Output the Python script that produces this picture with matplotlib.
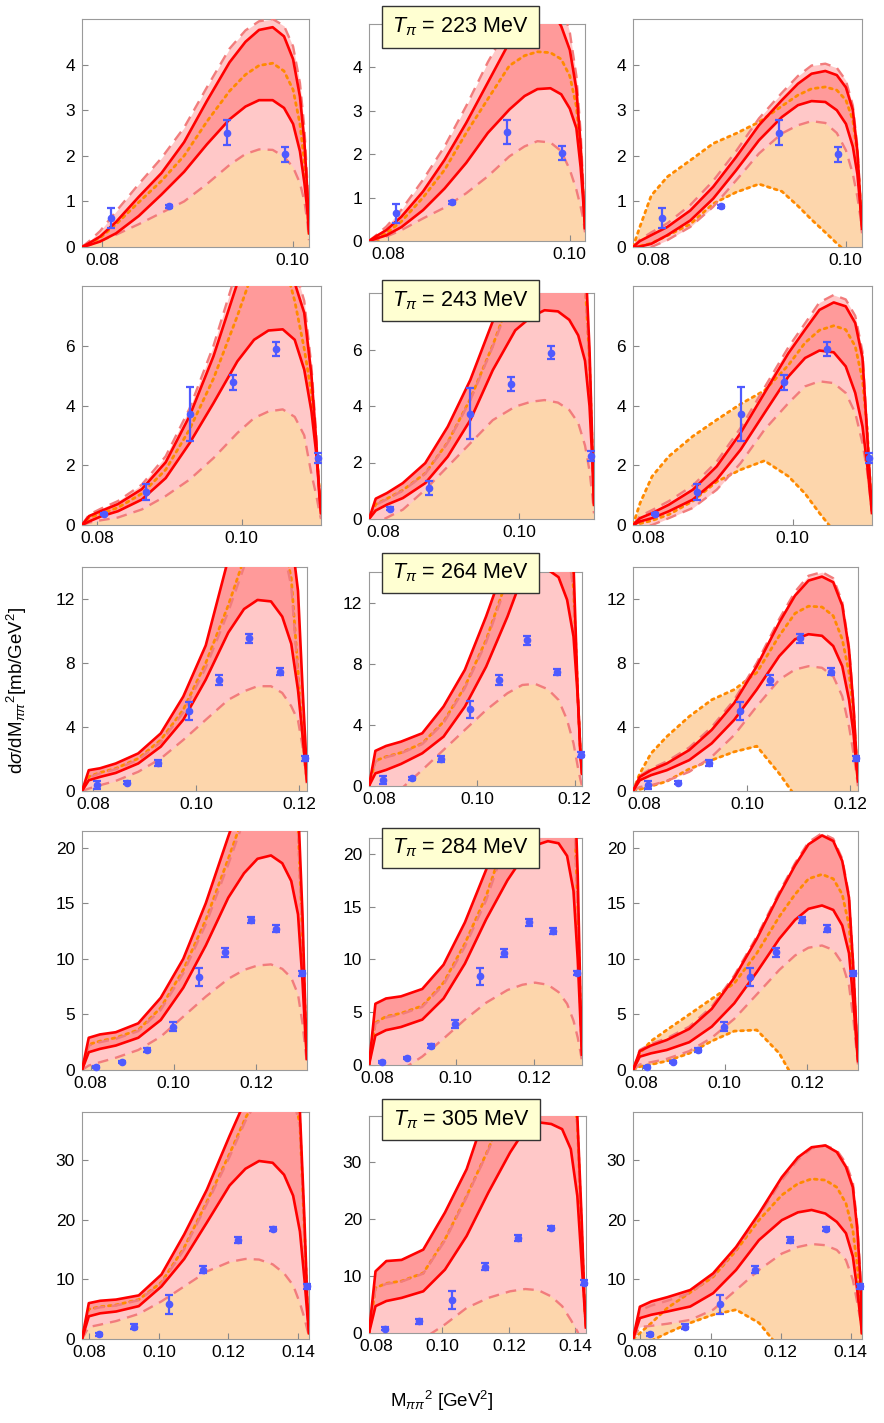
import matplotlib
matplotlib.use("Agg")
import matplotlib.pyplot as plt
from matplotlib.patches import Rectangle
from matplotlib.ticker import FixedLocator, FuncFormatter

plt.rcParams['font.family'] = ['Liberation Sans', 'DejaVu Sans']
plt.rcParams['mathtext.fontset'] = 'custom'
plt.rcParams['mathtext.rm'] = 'Liberation Sans'
plt.rcParams['mathtext.it'] = 'Liberation Sans:italic'
plt.rcParams['mathtext.bf'] = 'Liberation Sans:bold'

# ---------------- data ----------------
T_LABELS = ["223", "243", "264", "284", "305"]
Y_TICKS = [[0, 1, 2, 3, 4], [0, 2, 4, 6], [0, 4, 8, 12], [0, 5, 10, 15, 20], [0, 10, 20, 30]]
X_TICKS = [[0.08, 0.10], [0.08, 0.10], [0.08, 0.10, 0.12], [0.08, 0.10, 0.12], [0.08, 0.10, 0.12, 0.14]]
Y_MAX = [5.0, 8.0, 14.0, 21.5, 38.0]
X_MIN = 0.0779
X_MAX = [0.1017, 0.1110, 0.1215, 0.1322, 0.1432]

# sample x of the theory curves (one grid per row)
X_1 = [0.0779, 0.07861, 0.07980, 0.08147, 0.08385, 0.08623, 0.08861, 0.09099, 0.09337, 0.09504, 0.09646, 0.09789, 0.09908, 0.10003, 0.10075, 0.10122, 0.10153, 0.1017]
X_2 = [0.0779, 0.07889, 0.08055, 0.08287, 0.08618, 0.08949, 0.09280, 0.09611, 0.09942, 0.10173, 0.10372, 0.10570, 0.10736, 0.10868, 0.10968, 0.11034, 0.11077, 0.1110]
X_3 = [0.0779, 0.07921, 0.08139, 0.08444, 0.08880, 0.09316, 0.09752, 0.10188, 0.10624, 0.10929, 0.11191, 0.11452, 0.11670, 0.11845, 0.11976, 0.12063, 0.12119, 0.1215]
X_4 = [0.0779, 0.07953, 0.08224, 0.08605, 0.09148, 0.09691, 0.10234, 0.10777, 0.11320, 0.11700, 0.12025, 0.12351, 0.12623, 0.12840, 0.13003, 0.13111, 0.13182, 0.1322]
X_5 = [0.0779, 0.07986, 0.08312, 0.08770, 0.09423, 0.10076, 0.10729, 0.11382, 0.12035, 0.12492, 0.12883, 0.13275, 0.13602, 0.13863, 0.14059, 0.14189, 0.14274, 0.1432]

# experimental points
PX_1 = [0.0809, 0.0870, 0.0931, 0.0992]
PY_1 = [0.64, 0.89, 2.51, 2.03]
PE_1 = [0.22, 0.04, 0.27, 0.16]
PX_2 = [0.0810, 0.0868, 0.0928, 0.0988, 0.1047, 0.1106]
PY_2 = [0.37, 1.10, 3.72, 4.77, 5.89, 2.24]
PE_2 = [0.04, 0.26, 0.90, 0.24, 0.24, 0.18]
PX_3 = [0.0808, 0.0867, 0.0926, 0.0986, 0.1045, 0.1103, 0.1163, 0.1212]
PY_3 = [0.38, 0.52, 1.76, 5.01, 6.94, 9.54, 7.45, 2.05]
PE_3 = [0.25, 0.10, 0.20, 0.57, 0.32, 0.30, 0.22, 0.15]
PX_4 = [0.0813, 0.0875, 0.0937, 0.0999, 0.1062, 0.1124, 0.1186, 0.1248, 0.1310]
PY_4 = [0.3, 0.7, 1.8, 3.9, 8.4, 10.6, 13.5, 12.7, 8.7]
PE_4 = [0.1, 0.1, 0.15, 0.4, 0.8, 0.4, 0.3, 0.3, 0.2]
PX_5 = [0.0828, 0.0928, 0.1028, 0.1127, 0.1227, 0.1328, 0.1426]
PY_5 = [0.78, 2.06, 5.83, 11.6, 16.6, 18.4, 8.8]
PE_5 = [0.3, 0.4, 1.6, 0.6, 0.5, 0.4, 0.4]

# theory bands: SH/SL solid (red), DH/DL dashed (pink), OH/OL dotted (orange); _row_col
SH_1_1 = [0, 0.08, 0.23, 0.55, 1.1, 1.62, 2.3, 3.2, 4.05, 4.5, 4.76, 4.82, 4.62, 4.12, 3.3, 2.3, 1.2, 0.4]
SL_1_1 = [0, 0.04, 0.12, 0.3, 0.68, 1.15, 1.65, 2.25, 2.8, 3.08, 3.22, 3.22, 3.05, 2.7, 2.1, 1.4, 0.8, 0.3]
DH_1_1 = [0, 0.12, 0.35, 0.78, 1.38, 1.95, 2.62, 3.5, 4.35, 4.75, 4.95, 5.0, 4.85, 4.4, 3.6, 2.6, 1.4, 0.5]
DL_1_1 = [0, 0.04, 0.13, 0.27, 0.5, 0.75, 1.0, 1.38, 1.8, 2.04, 2.14, 2.13, 1.98, 1.75, 1.4, 1.0, 0.55, 0.15]
OH_1_1 = [0, 0.08, 0.2, 0.5, 0.98, 1.45, 2.0, 2.75, 3.42, 3.78, 3.98, 4.03, 3.86, 3.45, 2.7, 1.85, 1.0, 0.3]
OL_1_1 = [0, -0.1, -0.3, -0.6, -1, -1.5, -2, -2.5, -3, -3, -3, -3, -3, -2.5, -2, -1.5, -1, -0.5]

SH_1_2 = [0, 0.1, 0.25, 0.56, 1.14, 1.87, 2.72, 3.65, 4.58, 5.15, 5.4, 5.35, 4.95, 4.4, 3.5, 2.2, 1.0, 0.3]
SL_1_2 = [0, 0.05, 0.13, 0.32, 0.71, 1.21, 1.8, 2.49, 3.03, 3.34, 3.5, 3.52, 3.38, 3.05, 2.6, 1.7, 0.85, 0.3]
DH_1_2 = [0, 0.12, 0.33, 0.72, 1.41, 2.18, 3.11, 4.12, 5.0, 5.6, 5.9, 5.9, 5.5, 4.8, 3.8, 2.5, 1.2, 0.4]
DL_1_2 = [0, 0.03, 0.1, 0.25, 0.52, 0.77, 1.1, 1.49, 1.95, 2.18, 2.3, 2.27, 2.07, 1.64, 1.18, 0.79, 0.48, 0.2]
OH_1_2 = [0, 0.05, 0.18, 0.45, 1.0, 1.64, 2.49, 3.27, 4.04, 4.27, 4.36, 4.34, 4.19, 3.8, 3.1, 2.1, 1.0, 0.3]
OL_1_2 = [0, 0, -0.05, -0.3, -0.6, -1, -1.5, -2, -2.5, -2.5, -2.5, -2.5, -2.5, -2, -1.5, -1, -0.5, -0.2]

SH_1_3 = [0, 0.13, 0.26, 0.44, 0.8, 1.32, 1.97, 2.67, 3.22, 3.58, 3.8, 3.86, 3.77, 3.5, 3.0, 2.1, 1.0, 0.45]
SL_1_3 = [0, 0.01, 0.07, 0.26, 0.58, 1.06, 1.68, 2.34, 2.85, 3.11, 3.2, 3.18, 3.0, 2.7, 2.2, 1.6, 0.88, 0.4]
DH_1_3 = [0, 0.16, 0.32, 0.52, 0.92, 1.45, 2.1, 2.82, 3.38, 3.75, 3.98, 4.02, 3.93, 3.65, 3.1, 2.2, 1.05, 0.45]
DL_1_3 = [0, -0.02, 0.0, 0.15, 0.44, 0.88, 1.46, 2.05, 2.49, 2.67, 2.76, 2.72, 2.5, 2.12, 1.6, 1.1, 0.66, 0.3]
OH_1_3 = [0, 0.44, 1.13, 1.54, 1.9, 2.27, 2.49, 2.74, 3.09, 3.33, 3.47, 3.51, 3.44, 3.22, 2.78, 2.05, 1.0, 0.45]
OL_1_3 = [0, 0.02, 0.08, 0.25, 0.5, 0.95, 1.2, 1.38, 1.22, 0.9, 0.6, 0.32, 0.08, -0.1, -0.3, -0.4, -0.5, -0.5]

SH_2_1 = [0, 0.3, 0.47, 0.7, 1.2, 2.1, 3.65, 5.65, 8.1, 9.3, 9.8, 9.5, 8.1, 7.1, 5.0, 2.8, 1.0, 0.4]
SL_2_1 = [0, 0.12, 0.29, 0.46, 0.85, 1.57, 2.74, 4.08, 5.48, 6.2, 6.51, 6.55, 6.2, 5.2, 3.8, 2.4, 1.1, 0.4]
DH_2_1 = [0, 0.35, 0.55, 0.8, 1.35, 2.3, 3.9, 6.0, 8.6, 9.8, 10.3, 10.0, 8.6, 7.5, 5.3, 3.0, 1.1, 0.45]
DL_2_1 = [0, 0.08, 0.16, 0.25, 0.52, 0.97, 1.52, 2.24, 3.08, 3.58, 3.8, 3.87, 3.62, 3.0, 1.7, 1.0, 0.45, 0.2]
OH_2_1 = [0, 0.25, 0.38, 0.58, 1.05, 1.85, 3.2, 4.9, 7.0, 8.6, 9.2, 9.0, 7.5, 5.9, 4.4, 2.7, 1.2, 0.45]
OL_2_1 = [0, -0.2, -0.5, -1, -1.5, -2, -3, -4, -5, -5, -5, -5, -5, -4, -3, -2, -1, -0.5]

SH_2_2 = [0, 0.72, 0.92, 1.27, 1.98, 3.27, 4.92, 7.0, 9.5, 11, 12, 12.5, 12.3, 11.5, 9.5, 6.0, 2.5, 0.6]
SL_2_2 = [0, 0.3, 0.51, 0.74, 1.27, 2.21, 3.5, 5.27, 6.68, 7.15, 7.39, 7.35, 7.05, 6.5, 5.6, 4.0, 2.0, 0.5]
DH_2_2 = [0, 0.5, 0.7, 1.0, 1.6, 2.7, 4.2, 6.1, 8.2, 9.5, 10.3, 10.6, 10.4, 9.7, 8.3, 5.5, 2.2, 0.5]
DL_2_2 = [0, -0.15, 0.05, 0.33, 1.04, 1.86, 2.68, 3.5, 3.98, 4.15, 4.21, 4.12, 3.86, 3.4, 2.6, 1.7, 0.8, 0.2]
OH_2_2 = [0, 0.52, 0.72, 1.02, 1.62, 2.72, 4.25, 6.15, 8.3, 9.6, 10.4, 10.7, 10.5, 9.8, 8.4, 5.6, 2.3, 0.5]
OL_2_2 = [0, -0.5, -1, -1.5, -2, -3, -4, -5, -5, -5, -5, -5, -5, -4, -3, -2, -1, -0.5]

SH_2_3 = [0, 0.23, 0.4, 0.68, 1.18, 1.96, 3.08, 4.42, 5.75, 6.54, 7.2, 7.45, 7.32, 6.76, 5.6, 3.0, 1.3, 0.5]
SL_2_3 = [0, 0.12, 0.23, 0.46, 0.85, 1.52, 2.52, 3.75, 4.97, 5.59, 5.84, 5.78, 5.31, 4.42, 3.3, 2.0, 0.96, 0.4]
DH_2_3 = [0, 0.3, 0.5, 0.8, 1.32, 2.12, 3.25, 4.6, 5.95, 6.75, 7.45, 7.7, 7.55, 7.0, 5.8, 3.1, 1.35, 0.5]
DL_2_3 = [0, -0.1, 0.0, 0.23, 0.57, 1.18, 2.07, 3.19, 4.08, 4.64, 4.81, 4.75, 4.42, 3.75, 2.74, 1.8, 0.9, 0.3]
OH_2_3 = [0, 0.74, 1.63, 2.3, 2.97, 3.52, 4.05, 4.5, 5.35, 6.1, 6.52, 6.67, 6.54, 5.98, 4.86, 3.2, 1.3, 0.5]
OL_2_3 = [0, 0.05, 0.15, 0.35, 0.8, 1.45, 1.85, 2.15, 1.63, 1.05, 0.4, -0.2, -0.8, -1.2, -1.5, -1.5, -1.5, -1.5]

SH_3_1 = [0, 1.3, 1.42, 1.72, 2.35, 3.6, 5.9, 9.1, 14.5, 17.5, 19.5, 20, 19, 16, 12.5, 6.5, 3.0, 0.8]
SL_3_1 = [0, 0.67, 0.88, 1.13, 1.72, 2.77, 4.45, 6.96, 9.9, 11.37, 11.94, 11.85, 10.9, 9.2, 6.3, 3.5, 1.6, 0.6]
DH_3_1 = [0, 0.85, 1.1, 1.36, 1.95, 3.05, 4.9, 7.7, 11.2, 14.0, 16.0, 16.5, 15.5, 12.8, 7.2, 3.3, 1.4, 0.5]
DL_3_1 = [0, 0.15, 0.36, 0.63, 1.2, 2.03, 3.19, 4.45, 5.7, 6.23, 6.55, 6.55, 6.13, 5.3, 4.4, 2.8, 1.3, 0.4]
OH_3_1 = [0, 0.9, 1.15, 1.41, 2.03, 3.19, 5.08, 8.0, 11.6, 14.5, 16.5, 17, 16, 13.3, 7.5, 3.5, 1.5, 0.6]
OL_3_1 = [0, -0.5, -1, -2, -3, -4, -5, -6, -7, -7, -7, -7, -7, -6, -5, -4, -3, -2]

SH_3_2 = [0, 2.3, 2.62, 2.9, 3.45, 5.2, 7.6, 11.1, 15, 17.5, 19, 19.5, 19, 17.5, 14.5, 6.0, 2.0, 0.8]
SL_3_2 = [0, 0.83, 1.05, 1.44, 2.14, 3.23, 5.19, 7.81, 11.08, 13.7, 14.1, 14.15, 13.66, 12.18, 9.78, 5.85, 2.14, 0.9]
DH_3_2 = [0, 1.6, 1.88, 2.14, 2.74, 4.12, 6.4, 9.4, 13.4, 15.8, 17.3, 17.8, 17.3, 15.8, 12.8, 5.9, 2.0, 0.8]
DL_3_2 = [0, -1.5, -1.0, -0.2, 1.05, 2.36, 3.67, 4.97, 6.07, 6.61, 6.68, 6.33, 5.63, 4.32, 2.79, 1.27, 0.4, 0.0]
OH_3_2 = [0, 1.65, 1.92, 2.18, 2.79, 4.2, 6.5, 9.56, 13.6, 16, 17.5, 18, 17.5, 16, 13, 6, 2, 0.8]
OL_3_2 = [0, -2, -3, -4, -5, -6, -7, -8, -8, -8, -8, -8, -8, -7, -6, -5, -4, -3]

SH_3_3 = [0, 0.88, 1.3, 1.72, 2.56, 3.82, 5.5, 7.8, 10.53, 12.21, 13.15, 13.4, 13.05, 11.6, 8.85, 5.3, 2.14, 0.8]
SL_3_3 = [0, 0.67, 0.99, 1.3, 1.93, 2.98, 4.45, 6.34, 8.43, 9.48, 9.8, 9.7, 9.06, 7.8, 5.7, 3.6, 1.5, 0.6]
DH_3_3 = [0, 0.95, 1.4, 1.85, 2.72, 4.0, 5.7, 8.0, 10.75, 12.45, 13.45, 13.68, 13.3, 11.8, 9.0, 5.4, 2.2, 0.8]
DL_3_3 = [0, 0.25, 0.36, 0.63, 1.2, 2.14, 3.5, 5.29, 6.96, 7.59, 7.8, 7.7, 7.17, 5.92, 4.03, 2.35, 1.09, 0.3]
OH_3_3 = [0, 1.09, 2.35, 3.4, 4.66, 5.7, 6.34, 7.4, 9.7, 11.1, 11.55, 11.5, 10.95, 9.48, 7.4, 4.9, 2.1, 0.8]
OL_3_3 = [0, 0.1, 0.3, 0.6, 1.38, 1.93, 2.45, 2.8, 1.09, -0.3, -1.5, -3, -4, -5, -5, -4, -3, -2]

SH_4_1 = [0, 2.9, 3.2, 3.4, 4.2, 6.5, 10, 15, 21, 25, 28, 30, 30, 28, 24, 14, 5, 1]
SL_4_1 = [0, 1.6, 1.9, 2.2, 2.9, 4.5, 7.4, 11.2, 15.5, 17.7, 19.0, 19.3, 18.6, 17, 14, 8, 3, 1]
DH_4_1 = [0, 2.2, 2.5, 2.8, 3.5, 5.4, 8.7, 13.1, 18.5, 22.5, 25.5, 27.5, 27.5, 25.5, 21.5, 11.7, 4.3, 1]
DL_4_1 = [0, 0.4, 0.7, 1.1, 1.8, 3.0, 4.8, 6.6, 8.2, 9.0, 9.4, 9.5, 9.1, 8.3, 6.8, 4.2, 1.8, 0.5]
OH_4_1 = [0, 2.3, 2.6, 2.9, 3.6, 5.6, 9.0, 13.5, 19, 23, 26, 28, 28, 26, 22, 12, 4.5, 1]
OL_4_1 = [0, -1, -2, -3, -4, -5, -6, -7, -8, -8, -8, -8, -8, -7, -6, -5, -4, -3]

SH_4_2 = [0, 5.8, 6.3, 6.5, 7.2, 9.5, 13.5, 18.5, 25, 30, 33, 35, 35, 34, 30, 18, 6, 1]
SL_4_2 = [0, 2.8, 3.3, 3.6, 4.3, 6.3, 9.6, 13.8, 17.5, 19.6, 20.8, 21.2, 21.0, 19.8, 16.5, 10, 4, 1]
DH_4_2 = [0, 3.9, 4.5, 4.8, 5.5, 7.6, 11.2, 15.6, 21.5, 25.5, 28.5, 29.5, 29.5, 28.5, 25.5, 14.5, 4.8, 1]
DL_4_2 = [0, -3, -2, -0.5, 0.8, 2.5, 4.3, 5.9, 7.1, 7.6, 7.8, 7.6, 6.9, 5.8, 4.2, 2.6, 1.2, 0.4]
OH_4_2 = [0, 4.0, 4.6, 4.9, 5.6, 7.8, 11.5, 16, 22, 26, 29, 30, 30, 29, 26, 15, 5, 1]
OL_4_2 = [0, -3, -4, -5, -6, -7, -8, -9, -10, -10, -10, -10, -10, -9, -8, -7, -6, -5]

SH_4_3 = [0, 1.7, 2.2, 2.7, 3.7, 5.5, 8.3, 11.8, 15.8, 18.4, 20.3, 21.1, 20.6, 18.8, 15.5, 9, 3.5, 1]
SL_4_3 = [0, 1.2, 1.5, 1.8, 2.5, 3.9, 6.0, 8.8, 11.8, 13.5, 14.5, 14.8, 14.4, 13.0, 10.5, 6, 2.5, 0.8]
DH_4_3 = [0, 1.8, 2.35, 2.85, 3.9, 5.7, 8.5, 12.0, 16.0, 18.6, 20.5, 21.3, 20.8, 19.0, 15.7, 9.1, 3.6, 1]
DL_4_3 = [0, 0.5, 0.7, 1.0, 1.7, 2.9, 4.6, 6.8, 9.0, 10.3, 11.0, 11.2, 10.8, 9.6, 7.6, 4.5, 1.8, 0.5]
OH_4_3 = [0, 1.5, 2.6, 3.6, 5.0, 6.4, 7.8, 10.5, 13.8, 15.8, 17.2, 17.6, 17.2, 15.8, 13, 8, 3, 1]
OL_4_3 = [0, 0.3, 0.5, 0.8, 1.5, 2.6, 3.5, 3.6, 1.5, -1, -3, -5, -6, -6, -5, -4, -3, -2]

SH_5_1 = [0, 6.0, 6.4, 6.6, 7.3, 10.8, 17.5, 25, 34, 40, 44, 46, 46, 44, 38, 20, 6, 1]
SL_5_1 = [0, 3.8, 4.3, 4.6, 5.5, 8.8, 13.4, 19.5, 25.7, 28.5, 29.8, 29.5, 27.5, 24, 18, 10, 4, 1]
DH_5_1 = [0, 4.9, 5.3, 5.6, 6.5, 9.3, 15.0, 22.6, 30.5, 36.5, 40.5, 42.5, 42.5, 40.5, 35.5, 17.5, 5.2, 1]
DL_5_1 = [0, 2.0, 2.4, 3.0, 4.2, 6.3, 8.8, 11.3, 12.9, 13.4, 13.3, 12.5, 11.0, 9.0, 6.0, 3.5, 1.5, 0.5]
OH_5_1 = [0, 5.0, 5.4, 5.7, 6.6, 9.5, 15.3, 23, 31, 37, 41, 43, 43, 41, 36, 18, 5.5, 1]
OL_5_1 = [0, -1, -2, -3, -4, -5, -6, -7, -8, -8, -8, -8, -8, -7, -6, -5, -4, -3]

SH_5_2 = [0, 10.8, 12.6, 12.8, 14.6, 21.1, 28.7, 40, 48, 52, 54, 54, 52, 46, 38, 20, 6, 1]
SL_5_2 = [0, 4.7, 5.6, 6.15, 7.3, 11.1, 17, 24.6, 31.6, 35.7, 36.9, 36.6, 35.7, 32.2, 24, 12.3, 4.7, 1.0]
DH_5_2 = [0, 7.8, 8.6, 9.0, 10.4, 16.2, 23.8, 32.0, 41.5, 46.5, 48.5, 48.5, 46.5, 42.5, 36.5, 17.5, 5, 1]
DL_5_2 = [0, -7, -6, -4, -1, 1.5, 4.4, 6.15, 7.3, 7.7, 7.5, 6.4, 4.7, 2.3, 0.3, -1.5, -2.5, -3]
OH_5_2 = [0, 7.9, 8.7, 9.1, 10.5, 16.4, 24, 32.2, 42, 47, 49, 49, 47, 43, 37, 18, 5, 1]
OL_5_2 = [0, -10, -10, -10, -10, -10, -10, -10, -10, -10, -10, -10, -10, -10, -10, -10, -10, -5]

SH_5_3 = [0, 5.4, 6.28, 7.0, 8.2, 11.0, 15.4, 21, 27.1, 30.4, 32.1, 32.4, 31.3, 28.8, 25.4, 18.2, 9.9, 1.0]
SL_5_3 = [0, 3.5, 4.06, 4.6, 5.44, 7.67, 11.56, 16.56, 19.9, 21.2, 21.6, 21.0, 19.6, 17.7, 13.8, 8.0, 3.5, 1.0]
DH_5_3 = [0, 4.8, 5.6, 6.4, 7.7, 10.6, 15.0, 20.6, 26.6, 30.0, 31.9, 32.4, 31.6, 29.4, 26.2, 19, 10.5, 1.2]
DL_5_3 = [0, 2.0, 2.2, 2.55, 3.2, 4.9, 8.2, 11.56, 14.3, 15.4, 15.9, 15.7, 14.9, 13.2, 9.9, 6.0, 3.2, 1.0]
OH_5_3 = [0, 1.0, 2.67, 5.2, 7.8, 10.4, 14.8, 19.9, 24.1, 26.0, 26.8, 26.6, 25.4, 22.7, 18.2, 12.1, 5.4, 1.0]
OL_5_3 = [0, -1.0, -0.3, 1.0, 2.7, 4.06, 4.9, 2.7, -2, -5, -8, -10, -12, -12, -10, -8, -5, -2]

ROW_X = [X_1, X_2, X_3, X_4, X_5]
ROW_PTS = [(PX_1, PY_1, PE_1), (PX_2, PY_2, PE_2), (PX_3, PY_3, PE_3), (PX_4, PY_4, PE_4), (PX_5, PY_5, PE_5)]
BANDS = {
    (0, 0): (SH_1_1, SL_1_1, DH_1_1, DL_1_1, OH_1_1, OL_1_1),
    (0, 1): (SH_1_2, SL_1_2, DH_1_2, DL_1_2, OH_1_2, OL_1_2),
    (0, 2): (SH_1_3, SL_1_3, DH_1_3, DL_1_3, OH_1_3, OL_1_3),
    (1, 0): (SH_2_1, SL_2_1, DH_2_1, DL_2_1, OH_2_1, OL_2_1),
    (1, 1): (SH_2_2, SL_2_2, DH_2_2, DL_2_2, OH_2_2, OL_2_2),
    (1, 2): (SH_2_3, SL_2_3, DH_2_3, DL_2_3, OH_2_3, OL_2_3),
    (2, 0): (SH_3_1, SL_3_1, DH_3_1, DL_3_1, OH_3_1, OL_3_1),
    (2, 1): (SH_3_2, SL_3_2, DH_3_2, DL_3_2, OH_3_2, OL_3_2),
    (2, 2): (SH_3_3, SL_3_3, DH_3_3, DL_3_3, OH_3_3, OL_3_3),
    (3, 0): (SH_4_1, SL_4_1, DH_4_1, DL_4_1, OH_4_1, OL_4_1),
    (3, 1): (SH_4_2, SL_4_2, DH_4_2, DL_4_2, OH_4_2, OL_4_2),
    (3, 2): (SH_4_3, SL_4_3, DH_4_3, DL_4_3, OH_4_3, OL_4_3),
    (4, 0): (SH_5_1, SL_5_1, DH_5_1, DL_5_1, OH_5_1, OL_5_1),
    (4, 1): (SH_5_2, SL_5_2, DH_5_2, DL_5_2, OH_5_2, OL_5_2),
    (4, 2): (SH_5_3, SL_5_3, DH_5_3, DL_5_3, OH_5_3, OL_5_3),
}

# ---------------- layout (pixels: left, top, right, bottom) ----------------
W, H = 884, 1423
PANEL_PX = [
    [(82, 19, 309, 247), (369, 24, 585, 241), (633, 19, 862, 247)],
    [(82, 286, 321, 525), (369, 293, 594, 519), (633, 286, 872, 525)],
    [(82, 567, 307, 791), (369, 572, 582, 786), (633, 567, 858, 791)],
    [(82, 831, 307, 1070), (369, 838, 582, 1065), (633, 831, 858, 1070)],
    [(82, 1112, 309, 1339), (369, 1116, 586, 1333), (633, 1112, 862, 1339)],
]
BOX_PX = [(382, 6, 539, 48), (382, 280, 539, 321), (382, 553, 539, 593),
          (382, 828, 539, 868), (382, 1099, 540, 1140)]

C_ORANGE_FILL = '#FDD6AC'
C_PINK_FILL = '#FFC8C8'
C_RED_FILL = '#FF9A9A'
C_RED = '#FF0000'
C_PINK = '#F27C7C'
C_ORANGE = '#FF8A00'
C_BLUE = '#4F5AFF'
C_FRAME = '#9A9A9A'

fig = plt.figure(figsize=(W / 100, H / 100), dpi=100)

for r in range(5):
    xs = ROW_X[r]
    px, py, pe = ROW_PTS[r]
    for c in range(3):
        l, t, rr, b = PANEL_PX[r][c]
        ax = fig.add_axes([l / W, 1 - b / H, (rr - l) / W, (b - t) / H])
        sh, sl, dh, dl, oh, ol = BANDS[(r, c)]
        ax.fill_between(xs, ol, oh, color=C_ORANGE_FILL, lw=0, zorder=1)
        ax.fill_between(xs, dl, dh, color=C_PINK_FILL, lw=0, zorder=2)
        ax.fill_between(xs, sl, sh, color=C_RED_FILL, lw=0, zorder=3)
        for yy in (ol, oh):
            ax.plot(xs, yy, color=C_ORANGE, lw=2.0, ls=(0, (1.0, 1.6)),
                    dash_capstyle='round', zorder=4)
        for yy in (dl, dh):
            ax.plot(xs, yy, color=C_PINK, lw=1.7, ls=(0, (4.5, 3.0)), zorder=5)
        for yy in (sl, sh):
            ax.plot(xs, yy, color=C_RED, lw=1.9, zorder=6)
        ax.errorbar(px, py, yerr=pe, fmt='o', color=C_BLUE, ms=4.5,
                    elinewidth=1.6, capsize=2.8, capthick=1.6, zorder=8,
                    clip_on=False)
        ax.set_xlim(X_MIN, X_MAX[r])
        ax.set_ylim(0, Y_MAX[r])
        ax.xaxis.set_major_locator(FixedLocator(X_TICKS[r]))
        ax.yaxis.set_major_locator(FixedLocator(Y_TICKS[r]))
        ax.xaxis.set_major_formatter(FuncFormatter(lambda v, p: f"{v:.2f}"))
        ax.yaxis.set_major_formatter(FuncFormatter(lambda v, p: f"{v:g}"))
        ax.tick_params(direction='in', length=4, width=0.8, color='#888888',
                       labelsize=12.5, labelcolor='black', top=False, right=False)
        ax.tick_params(axis='x', pad=4)
        ax.tick_params(axis='y', pad=5)
        for s in ax.spines.values():
            s.set_color(C_FRAME)
            s.set_linewidth(0.8)
        ax.set_facecolor('white')

    bl, bt, br, bb = BOX_PX[r]
    fig.add_artist(Rectangle((bl / W, 1 - bb / H), (br - bl) / W, (bb - bt) / H,
                             transform=fig.transFigure, facecolor='#FFFFD2',
                             edgecolor='#333333', lw=1.0, zorder=20))
    fig.text((bl + br) / 2 / W, 1 - (bt + bb) / 2 / H,
             r'$T_{\pi}$ = ' + T_LABELS[r] + ' MeV', ha='center', va='center',
             fontsize=15.5, zorder=21)

fig.text(442 / W, 1 - 1401 / H, r'M$_{\pi\pi}$$^{2}$ [GeV$^{2}$]',
         ha='center', va='center', fontsize=13.5)
fig.text(17 / W, 1 - 690 / H, r'd$\sigma$/dM$_{\pi\pi}$$^{2}$[mb/GeV$^{2}$]',
         ha='center', va='center', rotation=90, fontsize=13.5)

fig.savefig('out.png', dpi=100)
